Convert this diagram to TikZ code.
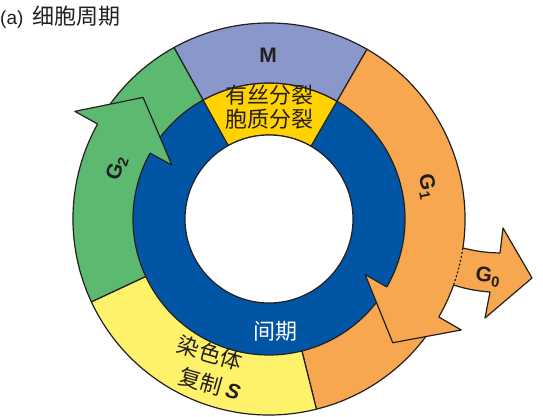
\documentclass[tikz,border=0pt]{standalone}
\usepackage{fontspec}
\setsansfont{Liberation Sans}
\newfontfamily\cjk{Noto Sans CJK SC}
\usetikzlibrary{calc}
\definecolor{lc}{HTML}{231F20}
\definecolor{mcol}{HTML}{8A97CB}
\definecolor{gone}{HTML}{F7A74F}
\definecolor{scol}{HTML}{FFF26B}
\definecolor{gold}{HTML}{FFD200}
\definecolor{gtwo}{HTML}{5BBA6F}
\definecolor{ring}{HTML}{0055A5}
\newcommand{\annsec}[4]{($(C)+(#1:#3)$) arc[start angle=#1,end angle=#2,radius=#3pt] -- ($(C)+(#2:#4)$) arc[start angle=#2,end angle=#1,radius=#4pt] -- cycle}
\begin{document}
\begin{tikzpicture}[x=1pt,y=1pt,
  ol/.style={draw=lc,line width=1.2pt,line join=round},
  lab/.style={font=\sffamily\bfseries\fontsize{21}{21}\selectfont,text=lc,inner sep=0pt},
  cj/.style={font=\cjk\fontsize{22}{24}\selectfont,text=lc,inner sep=0pt}]
\useasboundingbox (0,0) rectangle (543,417);
\coordinate (C) at (269,198);
% inner ring
\fill[ring] (C) circle[radius=136pt];
\path[ol,fill=gold] \annsec{60}{119}{136}{84};
\path[ol,fill=white] (C) circle[radius=84pt];
% outer ring
\path[ol,fill=mcol] \annsec{60}{119}{196}{136};
\path[ol,fill=gone] \annsec{-76}{60}{196}{136};
\path[ol,fill=scol] \annsec{205}{284}{196}{136};
\path[ol,fill=gtwo] \annsec{119}{205}{196}{136};
% G0 arrow
\coordinate (g0a) at ($(C)+(-8.5:196)$);
\coordinate (g0b) at ($(C)+(-19.7:196)$);
\coordinate (g0ai) at ($(C)+(-8.5:190)$);
\coordinate (g0bi) at ($(C)+(-19.7:190)$);
\coordinate (g0tn) at (500,164);
\coordinate (g0tb) at (503,189);
\coordinate (g0tip) at (532,139);
\coordinate (g0bb) at (485,99);
\coordinate (g0bn) at (490,125);
\fill[gone] (g0ai) -- (g0a) to[bend right=6] (g0tn) -- (g0tb) -- (g0tip) -- (g0bb) -- (g0bn) to[bend left=6] (g0b) -- (g0bi) arc[start angle=-19.7,end angle=-8.5,radius=190pt] -- cycle;
\draw[ol] (g0a) to[bend right=6] (g0tn) -- (g0tb) -- (g0tip) -- (g0bb) -- (g0bn) to[bend left=6] (g0b);
\draw[lc,line width=1.2pt,dash pattern=on 2pt off 2pt] (g0a) arc[start angle=-8.5,end angle=-19.7,radius=196pt];
% G1 arrowhead
\coordinate (a1no) at ($(C)+(-30:196)$);
\coordinate (a1bo) at ($(C)+(-30:222)$);
\coordinate (a1t) at ($(C)+(-45:175)$);
\coordinate (a1bi) at ($(C)+(-30:111)$);
\coordinate (a1ni) at ($(C)+(-30:136)$);
\fill[gone] (a1no) -- (a1bo) -- (a1t) -- (a1bi) -- (a1ni) -- cycle;
\draw[ol] (a1no) -- (a1bo) -- (a1t) -- (a1bi) -- (a1ni);
% G2 arrowhead
\coordinate (a2no) at ($(C)+(151:196)$);
\coordinate (a2bo) at ($(C)+(151:222)$);
\coordinate (a2t) at ($(C)+(136:175)$);
\coordinate (a2bi) at ($(C)+(151:111)$);
\coordinate (a2ni) at ($(C)+(151:136)$);
\fill[gtwo] (a2no) -- (a2bo) -- (a2t) -- (a2bi) -- (a2ni) -- cycle;
\draw[ol] (a2no) -- (a2bo) -- (a2t) -- (a2bi) -- (a2ni);
% labels
\node[lab] (mlab) at (268,362) {M};
\node[cj,align=center] (mit) at (269,310) {有丝分裂\\胞质分裂};
\node[cj,text=white] (interph) at (275,86) {间期};
\node[cj,rotate=-16] (s1) at (210,64) {染色体};
\node[cj,rotate=-16] (s2) at (210,33) {复制\ {\sffamily\bfseries\itshape\fontsize{21}{21}\selectfont S}};
\node[lab,rotate=-79] (g1lab) at (427,230) {G\textsubscript{1}};
\node[lab,rotate=72] (g2lab) at (117,249) {G\textsubscript{2}};
\node[lab,rotate=-8] (g0lab) at (488,140) {G\textsubscript{0}};
\node[anchor=west,inner sep=0pt,text=lc] (title) at (0,400) {\sffamily\fontsize{19}{19}\selectfont (a)\hspace{9pt}\cjk\fontsize{22}{22}\selectfont 细胞周期};
\end{tikzpicture}
\end{document}
